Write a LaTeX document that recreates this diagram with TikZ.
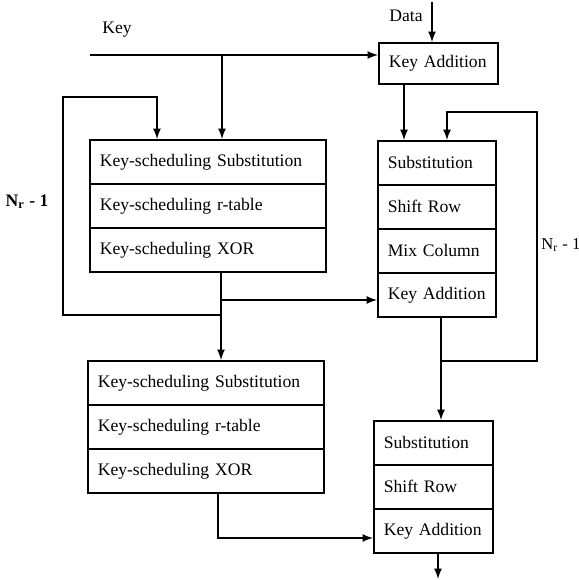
\documentclass[tikz,border=0pt]{standalone}
\usepackage{fontspec}
\setmainfont{Liberation Serif}
\tikzset{
  row/.style={draw, line width=0.8pt, anchor=north west, minimum height=22pt,
    inner xsep=5pt, text width=#1, align=left},
  arr/.style={-latex, line width=0.8pt},
}
\begin{document}
\begin{tikzpicture}[x=0.5pt, y=-0.5pt, font=\fontsize{8.8}{10.5}\selectfont]
	\useasboundingbox (0,0) rectangle (579,580);
	% key schedule, first stage
	\node[row=108pt] (kss1) at (89,139) {Key-scheduling Substitution};
	\node[row=108pt] (ksr1) at (89,183) {Key-scheduling r-table};
	\node[row=108pt] (ksx1) at (89,227) {Key-scheduling XOR};
	% key schedule, last stage
	\node[row=108pt] (kss2) at (87,360) {Key-scheduling Substitution};
	\node[row=108pt] (ksr2) at (87,404) {Key-scheduling r-table};
	\node[row=108pt] (ksx2) at (87,448) {Key-scheduling XOR};
	% cipher rounds
	\node[row=49.5pt, minimum height=20.5pt] (ka0) at (378,42) {Key Addition};
	\node[row=49pt] (sub1) at (377,140) {Substitution};
	\node[row=49pt] (shr1) at (377,184) {Shift Row};
	\node[row=49pt] (mix1) at (377,228) {Mix Column};
	\node[row=49pt] (ka1) at (377,272) {Key Addition};
	\node[row=49.5pt] (sub2) at (373,420) {Substitution};
	\node[row=49.5pt] (shr2) at (373,464) {Shift Row};
	\node[row=49.5pt] (ka2) at (373,508) {Key Addition};
	% labels
	\node (key) at (117,30) {Key};
	\node (datalbl) at (406,16) {Data};
	\node (nrleft) at (27,202) {\textbf{N\textsubscript{r} - 1}};
	\node[anchor=west, inner sep=0pt, font=\fontsize{8.3}{10}\selectfont] (nrright) at (541,245) {N\textsubscript{r} - 1};
	% connectors
	\coordinate (keyin) at (90,55);
	\coordinate (kj) at (222,55);
	\coordinate (data) at (432,2);
	\coordinate (c1) at (404,0);
	\draw[arr] (keyin) -- (keyin -| ka0.west);
	\draw[arr] (kj) -- (kj |- kss1.north);
	\draw[arr] (data) -- (data |- ka0.north);
	\draw[arr] (c1 |- ka0.south) -- (c1 |- sub1.north);
	% right loop
	\coordinate (rj) at (441,361);
	\coordinate (rl) at (537,112);
	\coordinate (rt) at (447,112);
	\draw[arr] (rj |- ka1.south) -- (rj |- sub2.north);
	\draw[arr] (rj) -| (rl) -- (rt) -- (rt |- sub1.north);
	% left loop
	\coordinate (lj) at (221,315);
	\coordinate (ll) at (63,97);
	\coordinate (lt) at (157,97);
	\coordinate (bj) at (221,300);
	\draw[arr] (lj |- ksx1.south) -- (lj |- kss2.north);
	\draw[arr] (lj) -| (ll) -- (lt) -- (lt |- kss1.north);
	\draw[arr] (bj) -- (bj -| ka1.west);
	% last round
	\coordinate (bb) at (218,538);
	\coordinate (out) at (438,579);
	\draw[arr] (bb |- ksx2.south) -- (bb) -- (bb -| ka2.west);
	\draw[arr] (out |- ka2.south) -- (out);
\end{tikzpicture}
\end{document}
